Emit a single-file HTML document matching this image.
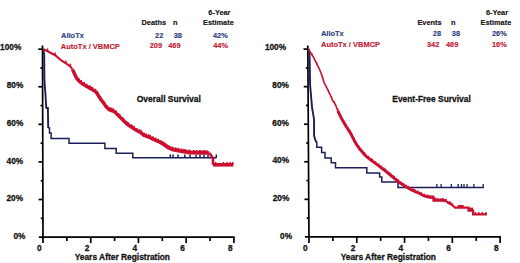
<!DOCTYPE html>
<html><head><meta charset="utf-8"><style>
html,body{margin:0;padding:0;background:#fff;}
body{width:520px;height:263px;overflow:hidden;}
svg{display:block;}
text{font-family:"Liberation Sans",sans-serif;font-weight:bold;paint-order:stroke;}
</style></head><body>
<svg width="520" height="263" viewBox="0 0 520 263">
<rect width="520" height="263" fill="#fff"/>
<line x1="42.5" y1="45.4" x2="43.0" y2="243" stroke="#000" stroke-width="1.7"/>
<line x1="38.90" y1="237.1" x2="234.70" y2="237.1" stroke="#000" stroke-width="1.7"/>
<line x1="40.74" y1="218.31" x2="42.94" y2="218.31" stroke="#000" stroke-width="1.7"/>
<line x1="38.59" y1="199.52" x2="42.89" y2="199.52" stroke="#000" stroke-width="1.7"/>
<line x1="40.64" y1="180.73" x2="42.84" y2="180.73" stroke="#000" stroke-width="1.7"/>
<line x1="38.49" y1="161.94" x2="42.79" y2="161.94" stroke="#000" stroke-width="1.7"/>
<line x1="40.55" y1="143.15" x2="42.75" y2="143.15" stroke="#000" stroke-width="1.7"/>
<line x1="38.40" y1="124.36" x2="42.70" y2="124.36" stroke="#000" stroke-width="1.7"/>
<line x1="40.45" y1="105.57" x2="42.65" y2="105.57" stroke="#000" stroke-width="1.7"/>
<line x1="38.30" y1="86.78" x2="42.60" y2="86.78" stroke="#000" stroke-width="1.7"/>
<line x1="40.36" y1="67.99" x2="42.56" y2="67.99" stroke="#000" stroke-width="1.7"/>
<line x1="38.21" y1="49.20" x2="42.51" y2="49.20" stroke="#000" stroke-width="1.7"/>
<line x1="66.86" y1="237.1" x2="66.86" y2="241.1" stroke="#000" stroke-width="1.7"/>
<line x1="90.72" y1="237.1" x2="90.72" y2="243.1" stroke="#000" stroke-width="1.7"/>
<line x1="114.59" y1="237.1" x2="114.59" y2="241.1" stroke="#000" stroke-width="1.7"/>
<line x1="138.45" y1="237.1" x2="138.45" y2="243.1" stroke="#000" stroke-width="1.7"/>
<line x1="162.31" y1="237.1" x2="162.31" y2="241.1" stroke="#000" stroke-width="1.7"/>
<line x1="186.18" y1="237.1" x2="186.18" y2="243.1" stroke="#000" stroke-width="1.7"/>
<line x1="210.04" y1="237.1" x2="210.04" y2="241.1" stroke="#000" stroke-width="1.7"/>
<line x1="233.90" y1="237.1" x2="233.90" y2="243.1" stroke="#000" stroke-width="1.7"/>
<line x1="307.8" y1="45.4" x2="309.0" y2="243" stroke="#000" stroke-width="1.7"/>
<line x1="304.90" y1="236.9" x2="500.90" y2="236.9" stroke="#000" stroke-width="1.7"/>
<line x1="306.65" y1="218.12" x2="308.85" y2="218.12" stroke="#000" stroke-width="1.7"/>
<line x1="304.43" y1="199.34" x2="308.73" y2="199.34" stroke="#000" stroke-width="1.7"/>
<line x1="306.42" y1="180.56" x2="308.62" y2="180.56" stroke="#000" stroke-width="1.7"/>
<line x1="304.21" y1="161.78" x2="308.51" y2="161.78" stroke="#000" stroke-width="1.7"/>
<line x1="306.19" y1="143.00" x2="308.39" y2="143.00" stroke="#000" stroke-width="1.7"/>
<line x1="303.98" y1="124.22" x2="308.28" y2="124.22" stroke="#000" stroke-width="1.7"/>
<line x1="305.96" y1="105.44" x2="308.16" y2="105.44" stroke="#000" stroke-width="1.7"/>
<line x1="303.75" y1="86.66" x2="308.05" y2="86.66" stroke="#000" stroke-width="1.7"/>
<line x1="305.74" y1="67.88" x2="307.94" y2="67.88" stroke="#000" stroke-width="1.7"/>
<line x1="303.52" y1="49.10" x2="307.82" y2="49.10" stroke="#000" stroke-width="1.7"/>
<line x1="332.89" y1="236.9" x2="332.89" y2="240.9" stroke="#000" stroke-width="1.7"/>
<line x1="356.77" y1="236.9" x2="356.77" y2="242.9" stroke="#000" stroke-width="1.7"/>
<line x1="380.66" y1="236.9" x2="380.66" y2="240.9" stroke="#000" stroke-width="1.7"/>
<line x1="404.55" y1="236.9" x2="404.55" y2="242.9" stroke="#000" stroke-width="1.7"/>
<line x1="428.44" y1="236.9" x2="428.44" y2="240.9" stroke="#000" stroke-width="1.7"/>
<line x1="452.33" y1="236.9" x2="452.33" y2="242.9" stroke="#000" stroke-width="1.7"/>
<line x1="476.21" y1="236.9" x2="476.21" y2="240.9" stroke="#000" stroke-width="1.7"/>
<line x1="500.10" y1="236.9" x2="500.10" y2="242.9" stroke="#000" stroke-width="1.7"/>
<polyline points="43.3,49.0 44.2,55.0 44.4,80.0 45.5,95.0 46.2,107.0 46.5,108.0 47.9,108.0 48.2,128.0" fill="none" stroke="#1b1f58" stroke-width="1.9" stroke-linejoin="miter" />
<polyline points="48.2,128.0 49.5,128.0 49.5,133.1 51.1,133.1 51.1,138.4 69.0,138.4 69.0,143.3 104.9,143.3 104.9,148.4 116.2,148.4 116.2,153.2 132.8,153.2 132.8,157.8 216.5,157.8" fill="none" stroke="#1b1f58" stroke-width="1.5" stroke-linejoin="miter" />
<line x1="170.3" y1="154.5" x2="170.3" y2="157.8" stroke="#1b1f58" stroke-width="1.5"/>
<line x1="173" y1="154.5" x2="173" y2="157.8" stroke="#1b1f58" stroke-width="1.5"/>
<line x1="178" y1="154.5" x2="178" y2="157.8" stroke="#1b1f58" stroke-width="1.5"/>
<line x1="184.8" y1="154.5" x2="184.8" y2="157.8" stroke="#1b1f58" stroke-width="1.5"/>
<line x1="190.1" y1="154.5" x2="190.1" y2="157.8" stroke="#1b1f58" stroke-width="1.5"/>
<line x1="196" y1="154.5" x2="196" y2="157.8" stroke="#1b1f58" stroke-width="1.5"/>
<line x1="200" y1="154.5" x2="200" y2="157.8" stroke="#1b1f58" stroke-width="1.5"/>
<line x1="204" y1="154.5" x2="204" y2="157.8" stroke="#1b1f58" stroke-width="1.5"/>
<line x1="208" y1="154.5" x2="208" y2="157.8" stroke="#1b1f58" stroke-width="1.5"/>
<line x1="216.3" y1="154.5" x2="216.3" y2="157.8" stroke="#1b1f58" stroke-width="1.5"/>
<polyline points="43.5,49.2 47.6,51.2 55.2,55.2 61.3,60.5 65.9,63.3 70.4,66.4 72.5,69.5" fill="none" stroke="#cc0f30" stroke-width="2.1" stroke-linejoin="miter" />
<polyline points="72.5,69.5 74.5,73.8 77.1,78.9 80.5,82.4 85.6,85.8 91.6,89.2 95.9,91.8 98.0,95.0 100.1,98.6 103.1,102.4 106.2,106.9 109.2,109.7 113.8,111.3 114.6,111.8 118.4,115.6 122.2,119.4 126.7,124.0 131.3,127.1 135.9,130.1 140.4,132.4 144.2,135.4 149.6,137.4 154.1,139.6 158.7,141.6 163.2,144.2 167.8,147.6 172.4,149.6 176.9,150.5" fill="none" stroke="#cc0f30" stroke-width="3.4" stroke-linejoin="miter" />
<polyline points="176.9,150.5 182.6,151.5 190.0,152.7 209.4,153.0" fill="none" stroke="#cc0f30" stroke-width="3.7" stroke-linejoin="miter" />
<polyline points="209.4,153.0 213.0,158.4 213.0,164.8" fill="none" stroke="#cc0f30" stroke-width="2.6" stroke-linejoin="miter" />
<polyline points="213.0,164.8 233.3,164.8" fill="none" stroke="#cc0f30" stroke-width="3.6" stroke-linejoin="miter" />
<line x1="74.0" y1="69.9" x2="74.0" y2="73.7" stroke="#cc0f30" stroke-width="1.5"/>
<line x1="76.2" y1="74.4" x2="76.2" y2="78.2" stroke="#cc0f30" stroke-width="1.5"/>
<line x1="78.7" y1="77.8" x2="78.7" y2="81.6" stroke="#cc0f30" stroke-width="1.5"/>
<line x1="81.3" y1="80.1" x2="81.3" y2="83.9" stroke="#cc0f30" stroke-width="1.5"/>
<line x1="84.2" y1="82.1" x2="84.2" y2="85.9" stroke="#cc0f30" stroke-width="1.5"/>
<line x1="86.7" y1="83.6" x2="86.7" y2="87.4" stroke="#cc0f30" stroke-width="1.5"/>
<line x1="89.5" y1="85.2" x2="89.5" y2="89.0" stroke="#cc0f30" stroke-width="1.5"/>
<line x1="90.6" y1="85.8" x2="90.6" y2="89.6" stroke="#cc0f30" stroke-width="1.5"/>
<line x1="92.5" y1="87.0" x2="92.5" y2="90.8" stroke="#cc0f30" stroke-width="1.5"/>
<line x1="95.4" y1="88.7" x2="95.4" y2="92.5" stroke="#cc0f30" stroke-width="1.5"/>
<line x1="97.7" y1="91.7" x2="97.7" y2="95.5" stroke="#cc0f30" stroke-width="1.5"/>
<line x1="100.5" y1="96.3" x2="100.5" y2="100.1" stroke="#cc0f30" stroke-width="1.5"/>
<line x1="101.7" y1="97.9" x2="101.7" y2="101.7" stroke="#cc0f30" stroke-width="1.5"/>
<line x1="103.7" y1="100.4" x2="103.7" y2="104.2" stroke="#cc0f30" stroke-width="1.5"/>
<line x1="105.2" y1="102.6" x2="105.2" y2="106.4" stroke="#cc0f30" stroke-width="1.5"/>
<line x1="107.3" y1="105.1" x2="107.3" y2="108.9" stroke="#cc0f30" stroke-width="1.5"/>
<line x1="109.4" y1="107.0" x2="109.4" y2="110.8" stroke="#cc0f30" stroke-width="1.5"/>
<line x1="110.4" y1="107.3" x2="110.4" y2="111.1" stroke="#cc0f30" stroke-width="1.5"/>
<line x1="111.9" y1="107.8" x2="111.9" y2="111.6" stroke="#cc0f30" stroke-width="1.5"/>
<line x1="113.4" y1="108.4" x2="113.4" y2="112.2" stroke="#cc0f30" stroke-width="1.5"/>
<line x1="116.2" y1="110.6" x2="116.2" y2="114.4" stroke="#cc0f30" stroke-width="1.5"/>
<line x1="118.8" y1="113.2" x2="118.8" y2="117.0" stroke="#cc0f30" stroke-width="1.5"/>
<line x1="120.1" y1="114.5" x2="120.1" y2="118.3" stroke="#cc0f30" stroke-width="1.5"/>
<line x1="122.7" y1="117.1" x2="122.7" y2="120.9" stroke="#cc0f30" stroke-width="1.5"/>
<line x1="124.0" y1="118.4" x2="124.0" y2="122.2" stroke="#cc0f30" stroke-width="1.5"/>
<line x1="126.2" y1="120.7" x2="126.2" y2="124.5" stroke="#cc0f30" stroke-width="1.5"/>
<line x1="127.5" y1="121.7" x2="127.5" y2="125.5" stroke="#cc0f30" stroke-width="1.5"/>
<line x1="128.5" y1="122.4" x2="128.5" y2="126.2" stroke="#cc0f30" stroke-width="1.5"/>
<line x1="131.2" y1="124.2" x2="131.2" y2="128.0" stroke="#cc0f30" stroke-width="1.5"/>
<line x1="132.6" y1="125.2" x2="132.6" y2="129.0" stroke="#cc0f30" stroke-width="1.5"/>
<line x1="134.1" y1="126.1" x2="134.1" y2="129.9" stroke="#cc0f30" stroke-width="1.5"/>
<line x1="137.0" y1="127.9" x2="137.0" y2="131.7" stroke="#cc0f30" stroke-width="1.5"/>
<line x1="139.8" y1="129.3" x2="139.8" y2="133.1" stroke="#cc0f30" stroke-width="1.5"/>
<line x1="141.3" y1="130.3" x2="141.3" y2="134.1" stroke="#cc0f30" stroke-width="1.5"/>
<line x1="144.3" y1="132.6" x2="144.3" y2="136.4" stroke="#cc0f30" stroke-width="1.5"/>
<line x1="146.3" y1="133.4" x2="146.3" y2="137.2" stroke="#cc0f30" stroke-width="1.5"/>
<line x1="148.7" y1="134.3" x2="148.7" y2="138.1" stroke="#cc0f30" stroke-width="1.5"/>
<line x1="150.1" y1="134.8" x2="150.1" y2="138.6" stroke="#cc0f30" stroke-width="1.5"/>
<line x1="153.0" y1="136.3" x2="153.0" y2="140.1" stroke="#cc0f30" stroke-width="1.5"/>
<line x1="155.4" y1="137.4" x2="155.4" y2="141.2" stroke="#cc0f30" stroke-width="1.5"/>
<line x1="158.3" y1="138.6" x2="158.3" y2="142.4" stroke="#cc0f30" stroke-width="1.5"/>
<line x1="161.1" y1="140.2" x2="161.1" y2="144.0" stroke="#cc0f30" stroke-width="1.5"/>
<line x1="162.7" y1="141.1" x2="162.7" y2="144.9" stroke="#cc0f30" stroke-width="1.5"/>
<line x1="164.4" y1="142.3" x2="164.4" y2="146.1" stroke="#cc0f30" stroke-width="1.5"/>
<line x1="165.7" y1="143.3" x2="165.7" y2="147.1" stroke="#cc0f30" stroke-width="1.5"/>
<line x1="167.0" y1="144.2" x2="167.0" y2="148.0" stroke="#cc0f30" stroke-width="1.5"/>
<line x1="168.2" y1="145.0" x2="168.2" y2="148.8" stroke="#cc0f30" stroke-width="1.5"/>
<line x1="169.8" y1="145.7" x2="169.8" y2="149.5" stroke="#cc0f30" stroke-width="1.5"/>
<line x1="172.0" y1="146.6" x2="172.0" y2="150.4" stroke="#cc0f30" stroke-width="1.5"/>
<line x1="173.0" y1="146.9" x2="173.0" y2="150.7" stroke="#cc0f30" stroke-width="1.5"/>
<line x1="175.3" y1="147.4" x2="175.3" y2="151.2" stroke="#cc0f30" stroke-width="1.5"/>
<line x1="177.0" y1="147.7" x2="177.0" y2="151.5" stroke="#cc0f30" stroke-width="1.5"/>
<line x1="178.6" y1="148.0" x2="178.6" y2="151.8" stroke="#cc0f30" stroke-width="1.5"/>
<line x1="181.3" y1="148.5" x2="181.3" y2="152.3" stroke="#cc0f30" stroke-width="1.5"/>
<line x1="183.2" y1="148.8" x2="183.2" y2="152.6" stroke="#cc0f30" stroke-width="1.5"/>
<line x1="184.9" y1="149.1" x2="184.9" y2="152.9" stroke="#cc0f30" stroke-width="1.5"/>
<line x1="186.8" y1="149.4" x2="186.8" y2="153.2" stroke="#cc0f30" stroke-width="1.5"/>
<line x1="189.2" y1="149.8" x2="189.2" y2="153.6" stroke="#cc0f30" stroke-width="1.5"/>
<line x1="190.4" y1="149.9" x2="190.4" y2="153.7" stroke="#cc0f30" stroke-width="1.5"/>
<line x1="193.3" y1="150.0" x2="193.3" y2="153.8" stroke="#cc0f30" stroke-width="1.5"/>
<line x1="194.3" y1="150.0" x2="194.3" y2="153.8" stroke="#cc0f30" stroke-width="1.5"/>
<line x1="196.8" y1="150.0" x2="196.8" y2="153.8" stroke="#cc0f30" stroke-width="1.5"/>
<line x1="199.5" y1="150.0" x2="199.5" y2="153.8" stroke="#cc0f30" stroke-width="1.5"/>
<line x1="200.6" y1="150.1" x2="200.6" y2="153.9" stroke="#cc0f30" stroke-width="1.5"/>
<line x1="203.1" y1="150.1" x2="203.1" y2="153.9" stroke="#cc0f30" stroke-width="1.5"/>
<line x1="204.9" y1="150.1" x2="204.9" y2="153.9" stroke="#cc0f30" stroke-width="1.5"/>
<line x1="207.0" y1="150.2" x2="207.0" y2="154.0" stroke="#cc0f30" stroke-width="1.5"/>
<line x1="47.6" y1="48.400000000000006" x2="47.6" y2="51.2" stroke="#cc0f30" stroke-width="1.4"/>
<line x1="55.2" y1="52.400000000000006" x2="55.2" y2="55.2" stroke="#cc0f30" stroke-width="1.4"/>
<line x1="65.9" y1="60.5" x2="65.9" y2="63.3" stroke="#cc0f30" stroke-width="1.4"/>
<line x1="70.4" y1="63.60000000000001" x2="70.4" y2="66.4" stroke="#cc0f30" stroke-width="1.4"/>
<line x1="215.7" y1="162.0" x2="215.7" y2="164.8" stroke="#cc0f30" stroke-width="1.4"/>
<line x1="223.3" y1="162.0" x2="223.3" y2="164.8" stroke="#cc0f30" stroke-width="1.4"/>
<line x1="227" y1="162.0" x2="227" y2="164.8" stroke="#cc0f30" stroke-width="1.4"/>
<line x1="230.1" y1="162.0" x2="230.1" y2="164.8" stroke="#cc0f30" stroke-width="1.4"/>
<line x1="232.8" y1="162.0" x2="232.8" y2="164.8" stroke="#cc0f30" stroke-width="1.4"/>
<polyline points="308.8,49.0 309.6,55.0 310.1,85.0 312.1,107.8 314.0,119.2 314.1,136.0 316.1,142.2" fill="none" stroke="#1b1f58" stroke-width="1.9" stroke-linejoin="miter" />
<polyline points="316.1,142.2 316.8,142.2 316.8,147.2 321.6,147.2 321.6,152.4 325.0,152.4 325.0,157.9 331.2,157.9 331.2,162.7 335.5,162.7 335.5,167.7 366.8,167.7 366.8,172.9 379.6,172.9 379.6,176.9 381.8,176.9 381.8,182.1 398.0,182.1 398.0,187.5 483.9,187.5" fill="none" stroke="#1b1f58" stroke-width="1.5" stroke-linejoin="miter" />
<line x1="436.9" y1="184" x2="436.9" y2="187.5" stroke="#1b1f58" stroke-width="1.3"/>
<line x1="441.1" y1="184" x2="441.1" y2="187.5" stroke="#1b1f58" stroke-width="1.3"/>
<line x1="451.4" y1="184" x2="451.4" y2="187.5" stroke="#1b1f58" stroke-width="1.3"/>
<line x1="458.2" y1="184" x2="458.2" y2="187.5" stroke="#1b1f58" stroke-width="1.3"/>
<line x1="461.5" y1="184" x2="461.5" y2="187.5" stroke="#1b1f58" stroke-width="1.3"/>
<line x1="464" y1="184" x2="464" y2="187.5" stroke="#1b1f58" stroke-width="1.3"/>
<line x1="467.1" y1="184" x2="467.1" y2="187.5" stroke="#1b1f58" stroke-width="1.3"/>
<line x1="473.9" y1="184" x2="473.9" y2="187.5" stroke="#1b1f58" stroke-width="1.3"/>
<line x1="483.2" y1="184" x2="483.2" y2="187.5" stroke="#1b1f58" stroke-width="1.3"/>
<polyline points="308.4,48.9 310.7,52.8 313.6,57.4 316.4,63.1 319.3,68.8 321.2,73.4 324.1,82.6 327.2,88.7 330.2,94.8 332.5,100.1 335.5,104.7 337.8,110.8" fill="none" stroke="#cc0f30" stroke-width="1.6" stroke-linejoin="miter" />
<polyline points="337.8,110.8 341.4,118.3 346.0,126.2 350.5,133.1 355.1,142.2 359.7,149.1 365.4,155.6 369.9,159.3 377.8,165.1 383.5,169.5 389.2,174.2 394.9,178.9 400.6,183.3 406.3,187.1 412.0,190.2 419.6,193.5 424.1,196.0 428.7,197.1 433.8,197.9 433.8,200.3 442.4,200.3 445.8,200.8" fill="none" stroke="#cc0f30" stroke-width="2.9" stroke-linejoin="miter" />
<polyline points="445.8,200.8 448.0,202.8 451.5,204.5 453.8,206.5 455.0,207.6 468.5,207.6 468.5,210.7 473.1,210.7 473.1,214.4 486.9,214.4" fill="none" stroke="#cc0f30" stroke-width="2.2" stroke-linejoin="miter" />
<line x1="338.0" y1="108.8" x2="338.0" y2="111.8" stroke="#cc0f30" stroke-width="1.2"/>
<line x1="340.1" y1="113.2" x2="340.1" y2="116.2" stroke="#cc0f30" stroke-width="1.2"/>
<line x1="342.4" y1="117.7" x2="342.4" y2="120.7" stroke="#cc0f30" stroke-width="1.2"/>
<line x1="345.6" y1="123.0" x2="345.6" y2="126.0" stroke="#cc0f30" stroke-width="1.2"/>
<line x1="347.7" y1="126.4" x2="347.7" y2="129.4" stroke="#cc0f30" stroke-width="1.2"/>
<line x1="349.9" y1="129.8" x2="349.9" y2="132.8" stroke="#cc0f30" stroke-width="1.2"/>
<line x1="352.3" y1="134.2" x2="352.3" y2="137.2" stroke="#cc0f30" stroke-width="1.2"/>
<line x1="353.8" y1="137.2" x2="353.8" y2="140.2" stroke="#cc0f30" stroke-width="1.2"/>
<line x1="356.0" y1="141.2" x2="356.0" y2="144.2" stroke="#cc0f30" stroke-width="1.2"/>
<line x1="358.5" y1="144.9" x2="358.5" y2="147.9" stroke="#cc0f30" stroke-width="1.2"/>
<line x1="361.4" y1="148.6" x2="361.4" y2="151.6" stroke="#cc0f30" stroke-width="1.2"/>
<line x1="362.7" y1="150.1" x2="362.7" y2="153.1" stroke="#cc0f30" stroke-width="1.2"/>
<line x1="364.4" y1="152.1" x2="364.4" y2="155.1" stroke="#cc0f30" stroke-width="1.2"/>
<line x1="365.7" y1="153.5" x2="365.7" y2="156.5" stroke="#cc0f30" stroke-width="1.2"/>
<line x1="368.6" y1="155.8" x2="368.6" y2="158.8" stroke="#cc0f30" stroke-width="1.2"/>
<line x1="371.2" y1="157.9" x2="371.2" y2="160.9" stroke="#cc0f30" stroke-width="1.2"/>
<line x1="372.4" y1="158.8" x2="372.4" y2="161.8" stroke="#cc0f30" stroke-width="1.2"/>
<line x1="375.7" y1="161.2" x2="375.7" y2="164.2" stroke="#cc0f30" stroke-width="1.2"/>
<line x1="378.9" y1="163.6" x2="378.9" y2="166.6" stroke="#cc0f30" stroke-width="1.2"/>
<line x1="381.5" y1="165.5" x2="381.5" y2="168.5" stroke="#cc0f30" stroke-width="1.2"/>
<line x1="383.9" y1="167.4" x2="383.9" y2="170.4" stroke="#cc0f30" stroke-width="1.2"/>
<line x1="385.4" y1="168.6" x2="385.4" y2="171.6" stroke="#cc0f30" stroke-width="1.2"/>
<line x1="386.5" y1="169.6" x2="386.5" y2="172.6" stroke="#cc0f30" stroke-width="1.2"/>
<line x1="388.7" y1="171.4" x2="388.7" y2="174.4" stroke="#cc0f30" stroke-width="1.2"/>
<line x1="390.0" y1="172.4" x2="390.0" y2="175.4" stroke="#cc0f30" stroke-width="1.2"/>
<line x1="391.5" y1="173.7" x2="391.5" y2="176.7" stroke="#cc0f30" stroke-width="1.2"/>
<line x1="393.1" y1="175.0" x2="393.1" y2="178.0" stroke="#cc0f30" stroke-width="1.2"/>
<line x1="394.3" y1="176.0" x2="394.3" y2="179.0" stroke="#cc0f30" stroke-width="1.2"/>
<line x1="396.4" y1="177.7" x2="396.4" y2="180.7" stroke="#cc0f30" stroke-width="1.2"/>
<line x1="398.5" y1="179.3" x2="398.5" y2="182.3" stroke="#cc0f30" stroke-width="1.2"/>
<line x1="401.4" y1="181.5" x2="401.4" y2="184.5" stroke="#cc0f30" stroke-width="1.2"/>
<line x1="403.7" y1="183.0" x2="403.7" y2="186.0" stroke="#cc0f30" stroke-width="1.2"/>
<line x1="406.2" y1="184.6" x2="406.2" y2="187.6" stroke="#cc0f30" stroke-width="1.2"/>
<line x1="408.4" y1="185.8" x2="408.4" y2="188.8" stroke="#cc0f30" stroke-width="1.2"/>
<line x1="410.9" y1="187.2" x2="410.9" y2="190.2" stroke="#cc0f30" stroke-width="1.2"/>
<line x1="413.1" y1="188.3" x2="413.1" y2="191.3" stroke="#cc0f30" stroke-width="1.2"/>
<line x1="414.8" y1="189.0" x2="414.8" y2="192.0" stroke="#cc0f30" stroke-width="1.2"/>
<line x1="418.1" y1="190.4" x2="418.1" y2="193.4" stroke="#cc0f30" stroke-width="1.2"/>
<line x1="421.3" y1="192.1" x2="421.3" y2="195.1" stroke="#cc0f30" stroke-width="1.2"/>
<line x1="424.3" y1="193.6" x2="424.3" y2="196.6" stroke="#cc0f30" stroke-width="1.2"/>
<line x1="427.0" y1="194.3" x2="427.0" y2="197.3" stroke="#cc0f30" stroke-width="1.2"/>
<line x1="428.7" y1="194.7" x2="428.7" y2="197.7" stroke="#cc0f30" stroke-width="1.2"/>
<line x1="430.4" y1="195.0" x2="430.4" y2="198.0" stroke="#cc0f30" stroke-width="1.2"/>
<line x1="432.1" y1="195.2" x2="432.1" y2="198.2" stroke="#cc0f30" stroke-width="1.2"/>
<line x1="433.3" y1="195.4" x2="433.3" y2="198.4" stroke="#cc0f30" stroke-width="1.2"/>
<line x1="436.1" y1="197.9" x2="436.1" y2="200.9" stroke="#cc0f30" stroke-width="1.2"/>
<line x1="438.1" y1="197.9" x2="438.1" y2="200.9" stroke="#cc0f30" stroke-width="1.2"/>
<line x1="441.1" y1="197.9" x2="441.1" y2="200.9" stroke="#cc0f30" stroke-width="1.2"/>
<line x1="443.0" y1="198.0" x2="443.0" y2="201.0" stroke="#cc0f30" stroke-width="1.2"/>
<line x1="446.2" y1="198.8" x2="446.2" y2="201.8" stroke="#cc0f30" stroke-width="1.2"/>
<line x1="449.2" y1="201.0" x2="449.2" y2="204.0" stroke="#cc0f30" stroke-width="1.2"/>
<line x1="450.3" y1="201.5" x2="450.3" y2="204.5" stroke="#cc0f30" stroke-width="1.2"/>
<line x1="451.9" y1="202.4" x2="451.9" y2="205.4" stroke="#cc0f30" stroke-width="1.2"/>
<line x1="312.0" y1="53.1" x2="312.0" y2="55.2" stroke="#cc0f30" stroke-width="1.0"/>
<line x1="316.9" y1="62.2" x2="316.9" y2="64.3" stroke="#cc0f30" stroke-width="1.0"/>
<line x1="322.7" y1="76.2" x2="322.7" y2="78.3" stroke="#cc0f30" stroke-width="1.0"/>
<line x1="328.5" y1="89.5" x2="328.5" y2="91.6" stroke="#cc0f30" stroke-width="1.0"/>
<line x1="331.7" y1="96.5" x2="331.7" y2="98.6" stroke="#cc0f30" stroke-width="1.0"/>
<line x1="334.3" y1="101.0" x2="334.3" y2="103.1" stroke="#cc0f30" stroke-width="1.0"/>
<line x1="475.4" y1="212" x2="475.4" y2="214.4" stroke="#cc0f30" stroke-width="1.4"/>
<line x1="478.8" y1="212" x2="478.8" y2="214.4" stroke="#cc0f30" stroke-width="1.4"/>
<line x1="482.3" y1="212" x2="482.3" y2="214.4" stroke="#cc0f30" stroke-width="1.4"/>
<line x1="486.0" y1="212" x2="486.0" y2="214.4" stroke="#cc0f30" stroke-width="1.4"/>
<rect x="457.7" y="205.0" width="6" height="2.6" fill="#cc0f30"/>
<rect x="468.5" y="207.6" width="4.6" height="3.1" fill="#cc0f30"/>
<text transform="translate(21.3,50.2) scale(1,1.05)" font-size="8.3" fill="#141414" stroke="#141414" stroke-width="0.28" text-anchor="end" >100%</text>
<text transform="translate(23.3,88.2) scale(1,1.05)" font-size="8.3" fill="#141414" stroke="#141414" stroke-width="0.28" text-anchor="end" >80%</text>
<text transform="translate(23.3,126.0) scale(1,1.05)" font-size="8.3" fill="#141414" stroke="#141414" stroke-width="0.28" text-anchor="end" >60%</text>
<text transform="translate(23.2,163.5) scale(1,1.05)" font-size="8.3" fill="#141414" stroke="#141414" stroke-width="0.28" text-anchor="end" >40%</text>
<text transform="translate(23.1,201.0) scale(1,1.05)" font-size="8.3" fill="#141414" stroke="#141414" stroke-width="0.28" text-anchor="end" >20%</text>
<text transform="translate(25.5,238.9) scale(1,1.05)" font-size="8.3" fill="#141414" stroke="#141414" stroke-width="0.28" text-anchor="end" >0%</text>
<text transform="translate(286.1,49.8) scale(1,1.05)" font-size="8.3" fill="#141414" stroke="#141414" stroke-width="0.28" text-anchor="end" >100%</text>
<text transform="translate(288.9,88.4) scale(1,1.05)" font-size="8.3" fill="#141414" stroke="#141414" stroke-width="0.28" text-anchor="end" >80%</text>
<text transform="translate(288.9,125.6) scale(1,1.05)" font-size="8.3" fill="#141414" stroke="#141414" stroke-width="0.28" text-anchor="end" >60%</text>
<text transform="translate(289.0,163.2) scale(1,1.05)" font-size="8.3" fill="#141414" stroke="#141414" stroke-width="0.28" text-anchor="end" >40%</text>
<text transform="translate(289.3,201.1) scale(1,1.05)" font-size="8.3" fill="#141414" stroke="#141414" stroke-width="0.28" text-anchor="end" >20%</text>
<text transform="translate(292.1,238.6) scale(1,1.05)" font-size="8.3" fill="#141414" stroke="#141414" stroke-width="0.28" text-anchor="end" >0%</text>
<text transform="translate(39.20,250.6) scale(1,1.05)" font-size="8.3" fill="#141414" stroke="#141414" stroke-width="0.28" text-anchor="middle" >0</text>
<text transform="translate(86.95,250.6) scale(1,1.05)" font-size="8.3" fill="#141414" stroke="#141414" stroke-width="0.28" text-anchor="middle" >2</text>
<text transform="translate(134.70,250.6) scale(1,1.05)" font-size="8.3" fill="#141414" stroke="#141414" stroke-width="0.28" text-anchor="middle" >4</text>
<text transform="translate(182.45,250.6) scale(1,1.05)" font-size="8.3" fill="#141414" stroke="#141414" stroke-width="0.28" text-anchor="middle" >6</text>
<text transform="translate(230.20,250.6) scale(1,1.05)" font-size="8.3" fill="#141414" stroke="#141414" stroke-width="0.28" text-anchor="middle" >8</text>
<text transform="translate(305.20,250.6) scale(1,1.05)" font-size="8.3" fill="#141414" stroke="#141414" stroke-width="0.28" text-anchor="middle" >0</text>
<text transform="translate(352.95,250.6) scale(1,1.05)" font-size="8.3" fill="#141414" stroke="#141414" stroke-width="0.28" text-anchor="middle" >2</text>
<text transform="translate(400.70,250.6) scale(1,1.05)" font-size="8.3" fill="#141414" stroke="#141414" stroke-width="0.28" text-anchor="middle" >4</text>
<text transform="translate(448.45,250.6) scale(1,1.05)" font-size="8.3" fill="#141414" stroke="#141414" stroke-width="0.28" text-anchor="middle" >6</text>
<text transform="translate(496.20,250.6) scale(1,1.05)" font-size="8.3" fill="#141414" stroke="#141414" stroke-width="0.28" text-anchor="middle" >8</text>
<text transform="translate(122.3,260.0) scale(1,1.05)" font-size="8.4" fill="#141414" stroke="#141414" stroke-width="0.28" text-anchor="middle" >Years After Registration</text>
<text transform="translate(388.3,260.0) scale(1,1.05)" font-size="8.4" fill="#141414" stroke="#141414" stroke-width="0.28" text-anchor="middle" >Years After Registration</text>
<text transform="translate(168.8,101.6) scale(1,1.05)" font-size="8.5" fill="#141414" stroke="#141414" stroke-width="0.28" text-anchor="middle" >Overall Survival</text>
<text transform="translate(431.5,101.5) scale(1,1.05)" font-size="8.4" fill="#141414" stroke="#141414" stroke-width="0.28" text-anchor="middle" >Event-Free Survival</text>
<text transform="translate(61.0,37.6) scale(1,1.05)" font-size="7.5" fill="#2c3e84" stroke="#2c3e84" stroke-width="0.14" text-anchor="start" >AlloTx</text>
<text transform="translate(60.8,48.5) scale(1,1.05)" font-size="7.5" fill="#c01a32" stroke="#c01a32" stroke-width="0.14" text-anchor="start" >AutoTx / VBMCP</text>
<text transform="translate(320.9,35.9) scale(1,1.05)" font-size="7.5" fill="#2c3e84" stroke="#2c3e84" stroke-width="0.14" text-anchor="start" >AlloTx</text>
<text transform="translate(321.0,46.6) scale(1,1.05)" font-size="7.5" fill="#c01a32" stroke="#c01a32" stroke-width="0.14" text-anchor="start" >AutoTx / VBMCP</text>
<text transform="translate(153.8,24.6) scale(1,1.05)" font-size="7.4" fill="#141414" stroke="#141414" stroke-width="0.14" text-anchor="middle" >Deaths</text>
<text transform="translate(175.2,24.6) scale(1,1.05)" font-size="7.4" fill="#141414" stroke="#141414" stroke-width="0.14" text-anchor="middle" >n</text>
<text transform="translate(219.4,14.7) scale(1,1.05)" font-size="7.4" fill="#141414" stroke="#141414" stroke-width="0.14" text-anchor="middle" >6-Year</text>
<text transform="translate(218.4,24.7) scale(1,1.05)" font-size="7.4" fill="#141414" stroke="#141414" stroke-width="0.14" text-anchor="middle" >Estimate</text>
<text transform="translate(163.3,37.5) scale(1,1.05)" font-size="7.4" fill="#2c3e84" stroke="#2c3e84" stroke-width="0.14" text-anchor="end" >22</text>
<text transform="translate(181.9,37.5) scale(1,1.05)" font-size="7.4" fill="#2c3e84" stroke="#2c3e84" stroke-width="0.14" text-anchor="end" >38</text>
<text transform="translate(220.4,37.5) scale(1,1.05)" font-size="7.4" fill="#2c3e84" stroke="#2c3e84" stroke-width="0.14" text-anchor="middle" >42%</text>
<text transform="translate(162.0,48.2) scale(1,1.05)" font-size="7.4" fill="#c01a32" stroke="#c01a32" stroke-width="0.14" text-anchor="end" >209</text>
<text transform="translate(180.6,48.2) scale(1,1.05)" font-size="7.4" fill="#c01a32" stroke="#c01a32" stroke-width="0.14" text-anchor="end" >469</text>
<text transform="translate(220.6,48.2) scale(1,1.05)" font-size="7.4" fill="#c01a32" stroke="#c01a32" stroke-width="0.14" text-anchor="middle" >44%</text>
<text transform="translate(429.5,24.5) scale(1,1.05)" font-size="7.4" fill="#141414" stroke="#141414" stroke-width="0.14" text-anchor="middle" >Events</text>
<text transform="translate(453.2,24.5) scale(1,1.05)" font-size="7.4" fill="#141414" stroke="#141414" stroke-width="0.14" text-anchor="middle" >n</text>
<text transform="translate(497,14.6) scale(1,1.05)" font-size="7.4" fill="#141414" stroke="#141414" stroke-width="0.14" text-anchor="middle" >6-Year</text>
<text transform="translate(495.9,24.7) scale(1,1.05)" font-size="7.4" fill="#141414" stroke="#141414" stroke-width="0.14" text-anchor="middle" >Estimate</text>
<text transform="translate(441.1,36.2) scale(1,1.05)" font-size="7.4" fill="#2c3e84" stroke="#2c3e84" stroke-width="0.14" text-anchor="end" >28</text>
<text transform="translate(460.0,36.2) scale(1,1.05)" font-size="7.4" fill="#2c3e84" stroke="#2c3e84" stroke-width="0.14" text-anchor="end" >38</text>
<text transform="translate(499.4,36.3) scale(1,1.05)" font-size="7.4" fill="#2c3e84" stroke="#2c3e84" stroke-width="0.14" text-anchor="middle" >26%</text>
<text transform="translate(439.3,47.2) scale(1,1.05)" font-size="7.4" fill="#c01a32" stroke="#c01a32" stroke-width="0.14" text-anchor="end" >342</text>
<text transform="translate(458.3,47.2) scale(1,1.05)" font-size="7.4" fill="#c01a32" stroke="#c01a32" stroke-width="0.14" text-anchor="end" >469</text>
<text transform="translate(499.4,46.8) scale(1,1.05)" font-size="7.4" fill="#c01a32" stroke="#c01a32" stroke-width="0.14" text-anchor="middle" >16%</text>
</svg>
</body></html>
